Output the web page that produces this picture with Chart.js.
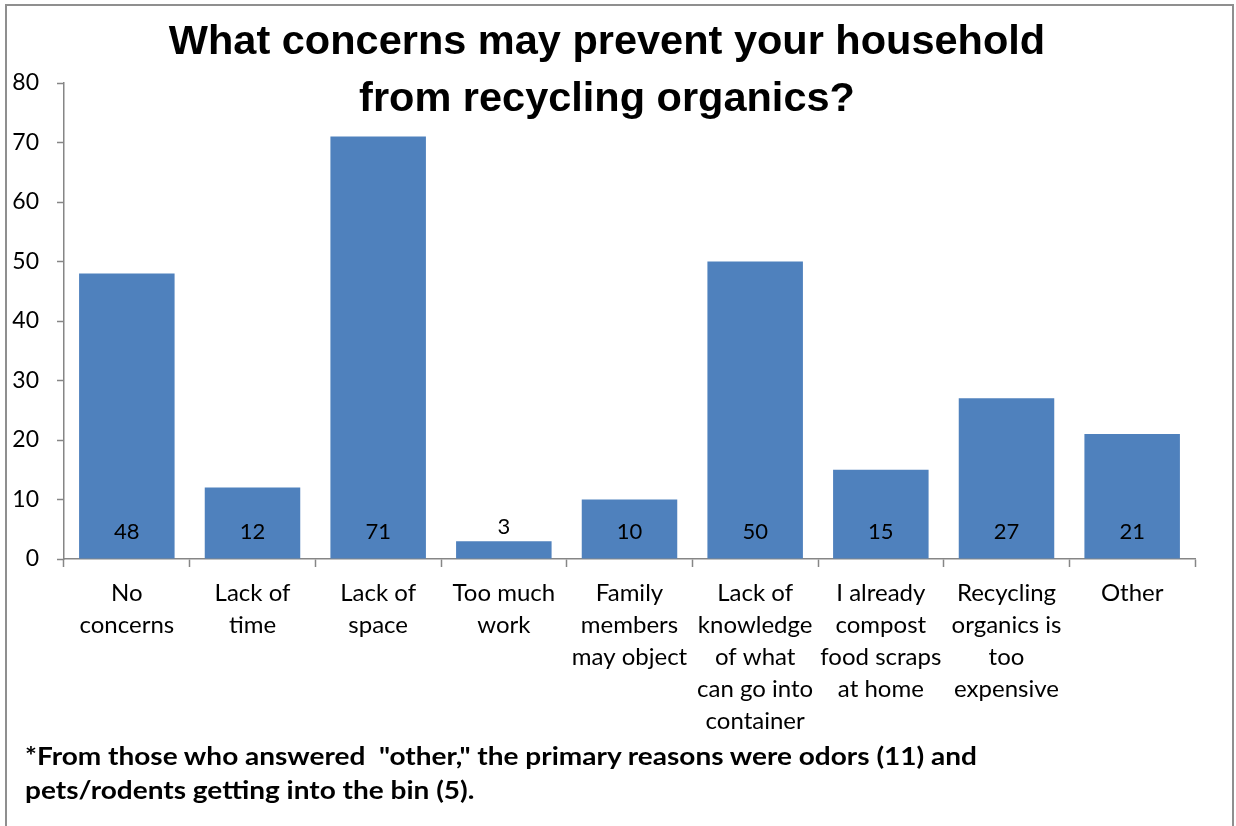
<!DOCTYPE html>
<html>
<head>
<meta charset="utf-8">
<script src="https://cdn.jsdelivr.net/npm/chart.js@4"></script>
<style>
  html, body { margin: 0; padding: 0; background: #fff; }
  #wrap { position: relative; width: 1236px; height: 826px; overflow: hidden; }
  #frame { position: absolute; left: 5px; top: 4px; width: 1229px; height: 840px; border: 2px solid #8f8f8f; box-sizing: border-box; }
  canvas { position: absolute; left: 0; top: 0; }
  .title { position: absolute; left: 0; width: 1214px; text-align: center; font-family: "Liberation Sans", Arial, sans-serif; font-weight: bold; font-size: 41.5px; color: #000; white-space: nowrap; }
  .note { position: absolute; left: 25px; font-family: Lato, sans-serif; font-weight: bold; font-size: 24px; color: #000; white-space: pre; transform-origin: 0 50%; }
</style>
</head>
<body>
<div id="wrap">
  <div id="frame"></div>
  <canvas id="chart" width="1236" height="826"></canvas>
  <div class="title" style="top:16px">What concerns may prevent your household</div>
  <div class="title" style="top:73px">from recycling organics?</div>
  <div class="note" id="note1" style="top:741px">*From those who answered  "other," the primary reasons were odors (11) and</div>
  <div class="note" id="note2" style="top:775px">pets/rodents getting into the bin (5).</div>
</div>
<script>
const categories = [
  ["No", "concerns"],
  ["Lack of", "time"],
  ["Lack of", "space"],
  ["Too much", "work"],
  ["Family", "members", "may object"],
  ["Lack of", "knowledge", "of what", "can go into", "container"],
  ["I already", "compost", "food scraps", "at home"],
  ["Recycling", "organics is", "too", "expensive"],
  ["Other"]
]
const counts = [48, 12, 71, 3, 10, 50, 15, 27, 21]

const axisGray = '#868686'

// value labels drawn near the bar base, or above short bars
const baseLabels = {
  id: 'baseLabels',
  afterDatasetsDraw(chart) {
    const ctx = chart.ctx
    const meta = chart.getDatasetMeta(0)
    const zero = chart.scales.y.getPixelForValue(0)
    ctx.save()
    ctx.font = '22px Lato, sans-serif'
    ctx.fillStyle = '#000'
    ctx.textAlign = 'center'
    ctx.textBaseline = 'middle'
    meta.data.forEach((bar, i) => {
      const h = zero - bar.y
      const y = h < 40 ? bar.y - 14 : zero - 27
      ctx.fillText(String(counts[i]), bar.x, y)
    })
    ctx.restore()
  }
}

new Chart(document.getElementById('chart'), {
  type: 'bar',
  data: {
    labels: categories,
    datasets: [{
      data: counts,
      backgroundColor: '#4F81BD',
      borderWidth: 0,
      barPercentage: 0.76,
      categoryPercentage: 1
    }]
  },
  plugins: [baseLabels],
  options: {
    responsive: false,
    animation: false,
    devicePixelRatio: 1,
    layout: { padding: { top: 83, right: 41, left: 0, bottom: 0 } },
    plugins: {
      legend: { display: false },
      tooltip: { enabled: false }
    },
    scales: {
      x: {
        grid: { display: true, drawOnChartArea: false, offset: true, color: axisGray, tickLength: 8, tickWidth: 1.5 },
        border: { color: axisGray, width: 1.5 },
        ticks: {
          color: '#000',
          font: { family: 'Lato, sans-serif', size: 24, lineHeight: 1.333 },
          maxRotation: 0,
          autoSkip: false,
          padding: 10
        },
        afterFit(scale) { scale.height = 826 - 559 }
      },
      y: {
        min: 0,
        max: 80,
        grid: { display: true, drawOnChartArea: false, color: axisGray, tickLength: 7, tickWidth: 1.5 },
        border: { color: axisGray, width: 1.5 },
        ticks: {
          stepSize: 10,
          color: '#000',
          font: { family: 'Lato, sans-serif', size: 23 },
          padding: 18
        },
        afterFit(scale) { scale.width = 64 }
      }
    }
  }
})

// squeeze the footnote to the reference width, same factor on both lines
const note1 = document.getElementById('note1')
const note2 = document.getElementById('note2')
const k = 952 / note1.getBoundingClientRect().width
note1.style.transform = 'scaleX(' + k + ')'
note2.style.transform = 'scaleX(' + k + ')'
</script>
</body>
</html>
